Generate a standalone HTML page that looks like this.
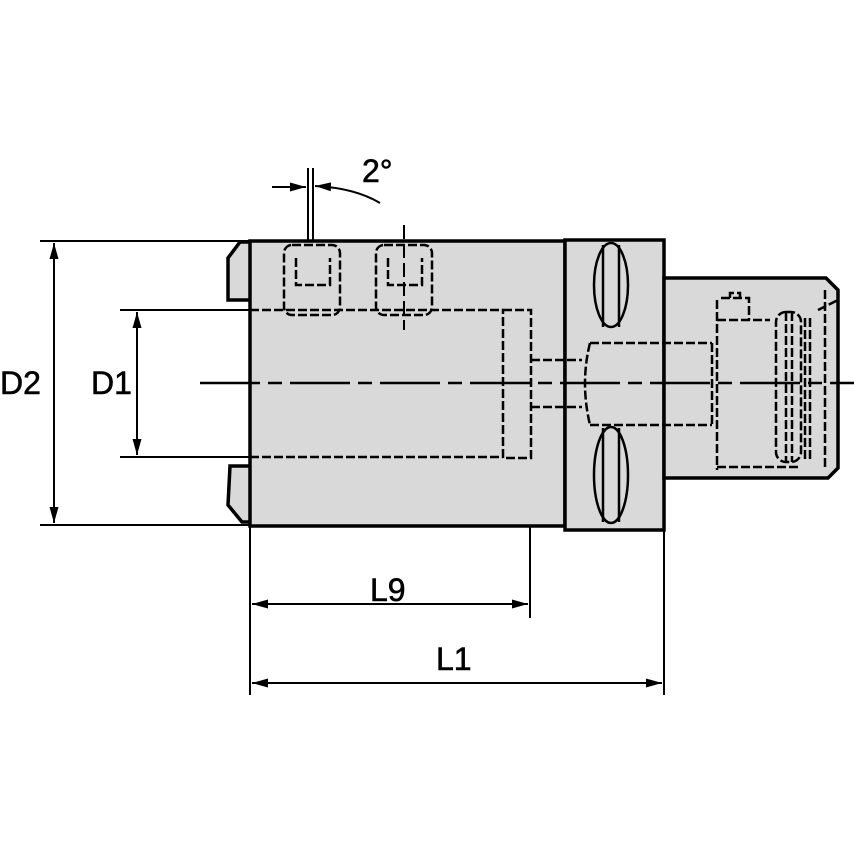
<!DOCTYPE html>
<html><head><style>
html,body{margin:0;padding:0;background:#fff;width:854px;height:854px;overflow:hidden}
text{font-family:"Liberation Sans",Arial,sans-serif;font-size:32px;fill:#000;stroke:#000;stroke-width:0.6}
</style></head><body>
<svg width="854" height="854" viewBox="0 0 854 854" xmlns="http://www.w3.org/2000/svg">
<defs>
<marker id="a" markerWidth="16" markerHeight="9" refX="16" refY="4.5" orient="auto" markerUnits="userSpaceOnUse"><path d="M0,0 L16,4.5 L0,9 Z" fill="#000"/></marker>
<marker id="b" markerWidth="16" markerHeight="9" refX="0" refY="4.5" orient="auto" markerUnits="userSpaceOnUse"><path d="M16,0 L0,4.5 L16,9 Z" fill="#000"/></marker>
</defs>
<g stroke="#000" fill="#d9d9d9" stroke-width="3.5">
<path d="M250,242 L240,242 L228,258 L228,300 L250,300"/>
<path d="M250,466 L230,466 L228,505 L242,522 L250,522"/>
<rect x="250" y="241" width="315" height="285"/>
<rect x="565" y="240" width="99" height="290"/>
<path d="M664,278 L826,278 L838,290 L838,468 L828,478 L664,478 Z"/>
</g>
<g stroke="#000" fill="none" stroke-width="2.5" stroke-dasharray="9,3">
<path d="M250,310 H503 M250,457 H503"/>
<rect x="503" y="310" width="28" height="148"/>
<path d="M531,360 H582 M531,407 H582"/>
<path d="M590,343 H712 M590,425 H712 M590,343 Q580,383 590,425"/>
<path d="M712,343 V425 M717,300 V470 M717,320 L770,320 M717,467 L800,467"/>
<path d="M721,298 h28 v22 M730,298 v-5 h10 v5"/>
<rect x="776" y="312" width="25" height="150" rx="10"/>
<path d="M786,312 V462 M792,312 V462 M805,318 V460 M810,318 V460 M825,290 V468 M818,310 L838,300"/>
<rect x="284" y="245" width="56" height="70" rx="8"/>
<rect x="376" y="245" width="56" height="70" rx="8"/>
<path d="M296,258 V285 H330 V258 M388,258 V285 H422 V258"/>
</g>
<g stroke="#000" fill="#d9d9d9" stroke-width="2.5">
<ellipse cx="611" cy="285" rx="17" ry="42"/>
<ellipse cx="611" cy="475" rx="17" ry="48"/>
<path d="M603,245 V327 M619,245 V327 M603,428 V522 M619,428 V522" fill="none"/>
</g>
<path d="M200,383 H854" stroke="#000" stroke-width="2.5" stroke-dasharray="60,8,14,8" fill="none"/>
<path d="M404,225 V330" stroke="#000" stroke-width="2" stroke-dasharray="14,5" fill="none"/>
<g stroke="#000" stroke-width="2" fill="none">
<path d="M40,241 H250 M40,525 H250"/>
<path d="M54,243 V523" marker-start="url(#b)" marker-end="url(#a)"/>
<path d="M120,310 H250 M120,457 H250"/>
<path d="M137,312 V455" marker-start="url(#b)" marker-end="url(#a)"/>
<path d="M250,527 V695 M530,527 V618 M664,530 V695"/>
<path d="M252,604 H528" marker-start="url(#b)" marker-end="url(#a)"/>
<path d="M252,683 H662" marker-start="url(#b)" marker-end="url(#a)"/>
<path d="M308,168 V240 M313,168 V240"/>
<path d="M272,187 H306" marker-end="url(#a)"/>
<path d="M380,203 Q355,188 315,186" marker-end="url(#a)"/>
</g>
<text x="0" y="394">D2</text>
<text x="91" y="394">D1</text>
<text x="370" y="601">L9</text>
<text x="436" y="670">L1</text>
<text x="362" y="182">2°</text>
</svg>
</body></html>
